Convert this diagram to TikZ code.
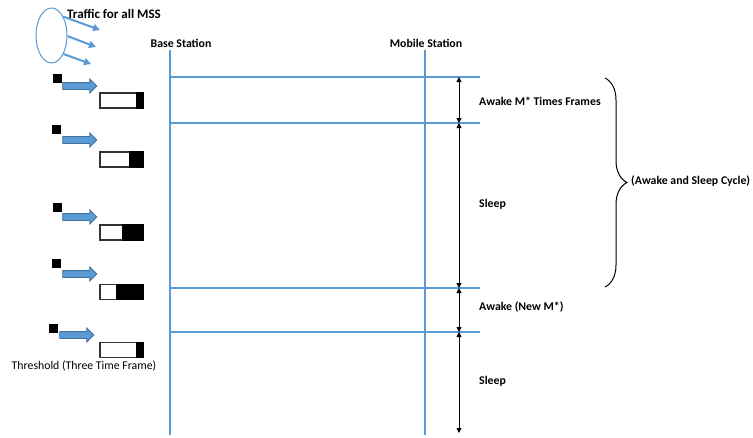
\documentclass[tikz,border=0pt]{standalone}
\usepackage{fontspec}
\setmainfont{Carlito}
\usetikzlibrary{positioning, arrows.meta, shapes.geometric, shapes.arrows, decorations.pathreplacing}
\definecolor{lineblue}{HTML}{5B9BD5}
\definecolor{arrowedge}{HTML}{41719C}
\tikzset{
	lbl/.style={font=\fontsize{11.8}{14}\selectfont\bfseries, inner sep=0pt},
	chanline/.style={lineblue, line width=2pt},
	spanarrow/.style={{Triangle[length=5pt,width=5pt]}-{Triangle[length=5pt,width=5pt]}, line width=0.9pt},
	flowarrow/.style={-{Triangle[length=7pt,width=7pt]}, lineblue, line width=2pt},
	blockarrow/.style={single arrow, draw=arrowedge, fill=lineblue, line width=0.8pt, minimum height=34pt, minimum width=13pt, inner sep=3pt, single arrow head extend=3.5pt},
	slot/.style={draw=black!80, fill=white, line width=1.2pt, minimum width=43pt, minimum height=15pt, inner sep=0pt},
	packet/.style={fill=black, minimum size=9pt, inner sep=0pt}
}
\begin{document}
\begin{tikzpicture}[x=1pt, y=-1pt]
		\useasboundingbox (0,0) rectangle (753,437);
		
		%Traffic for all MSS
		\node (traffic) at (51.5,35.5) [ellipse, draw=lineblue, line width=1pt, minimum width=31pt, minimum height=55pt, inner sep=0pt]{};
		\node (traffictxt) at (67,14) [lbl, anchor=west, font=\fontsize{13}{15}\selectfont\bfseries]{Traffic for all MSS};
		\coordinate (tr1) at (100,30);
		\coordinate (tr2) at (96,47);
		\coordinate (tr3) at (91,64);
		\draw[flowarrow] (traffic.58) -- (tr1);
		\draw[flowarrow] (traffic.-2) -- (tr2);
		\draw[flowarrow] (traffic.-57) -- (tr3);
		
		%Stations
		\node (bslbl) at (181,43) [lbl]{Base Station};
		\node (mslbl) at (426,43) [lbl]{Mobile Station};
		\coordinate (bstop) at (170,50);
		\coordinate (bsbot) at (170,435);
		\coordinate (mstop) at (425,50);
		\coordinate (msbot) at (425,435);
		\draw[chanline] (bstop) -- (bsbot);
		\draw[chanline] (mstop) -- (msbot);
		
		%Frame boundaries
		\foreach \i/\y in {1/77, 2/123, 3/288, 4/332}{
			\coordinate (fl\i) at (170,\y);
			\coordinate (fr\i) at (480,\y);
			\draw[chanline] (fl\i) -- (fr\i);
			\coordinate (t\i) at (459,\y);
		}
		\coordinate (t5) at (459,433);
		
		%Awake and sleep periods
		\draw[spanarrow] (t1) -- (t2);
		\draw[spanarrow] (t2) -- (t3);
		\draw[spanarrow] (t3) -- (t4);
		\draw[spanarrow] (t4) -- (t5);
		\node (awake1) at (479,101) [lbl, anchor=west]{Awake M* Times Frames};
		\node (sleep1) at (479,204) [lbl, anchor=west]{Sleep};
		\node (awake2) at (479,307) [lbl, anchor=west]{Awake (New M*)};
		\node (sleep2) at (479,381) [lbl, anchor=west]{Sleep};
		
		%Cycle brace
		\coordinate (br1) at (605,78);
		\coordinate (br2) at (605,287);
		\draw[decorate, decoration={brace, amplitude=22pt}, line width=1pt] (br1) -- (br2);
		\node (cyclelbl) at (631,181) [lbl, anchor=west]{(Awake and Sleep Cycle)};
		
		%Incoming packets and buffer
		\foreach \i/\sx/\sy/\ax/\ay/\by/\bw in {1/57/78/78/86/100.5/8, 2/56/129/78/140/159.5/15, 3/57/207/78/217/232.5/22, 4/56/263/78/274/292/28, 5/53/328/75/335/350/8}{
			\node (pkt\i) at (\sx,\sy) [packet]{};
			\node (arr\i) at (\ax,\ay) [blockarrow]{};
			\node (slot\i) at (121.5,\by) [slot]{};
			\fill[black] (slot\i.north east) rectangle ([xshift=-\bw pt]slot\i.south east);
		}
		\node (threshold) at (84,366) [font=\fontsize{11.8}{14}\selectfont, inner sep=0pt]{Threshold (Three Time Frame)};
		
\end{tikzpicture}
\end{document}
